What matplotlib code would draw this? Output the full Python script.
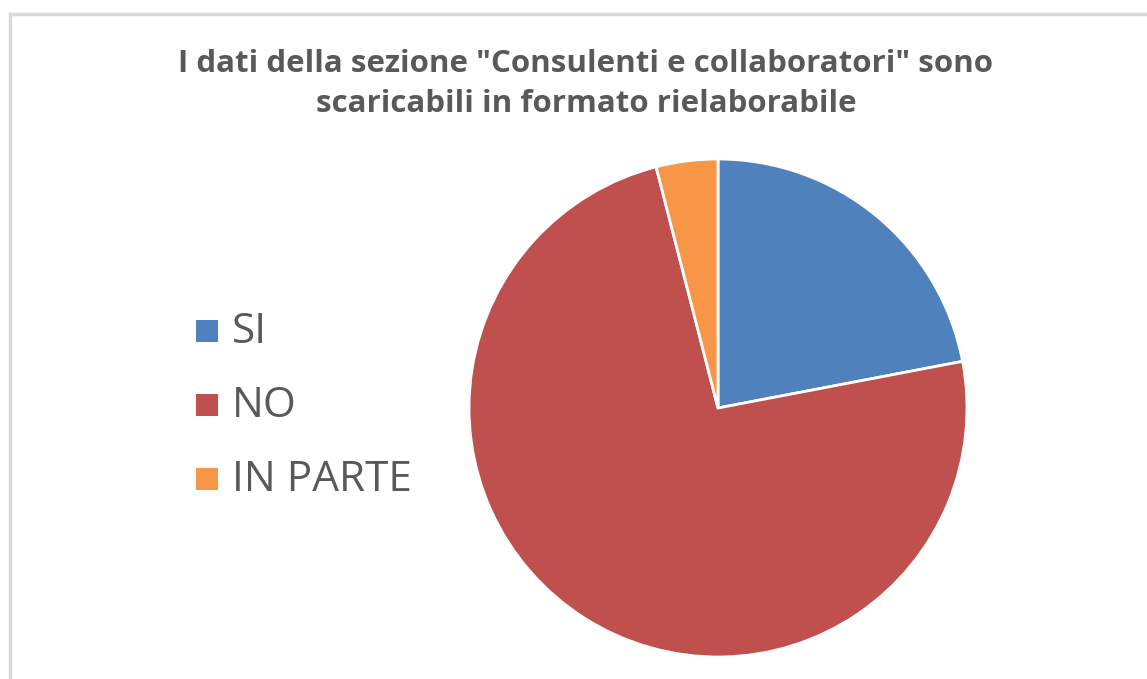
import matplotlib.pyplot as plt
from matplotlib.patches import Rectangle
from matplotlib.lines import Line2D

categories = ['SI', 'NO', 'IN PARTE']
values = [22, 74, 4]
colors = ['#4F81BD', '#C0504D', '#F79646']
title = 'I dati della sezione "Consulenti e collaboratori" sono\nscaricabili in formato rielaborabile'

W, H = 1147, 679
fig = plt.figure(figsize=(W / 100, H / 100), dpi=100)
fig.patch.set_facecolor('white')

# chart frame (left and top edges visible)
fig.add_artist(Line2D([9.5 / W, 9.5 / W], [0, 1 - 14 / H], color='#D9D9D9', lw=2.5))
fig.add_artist(Line2D([9.5 / W, 1], [1 - 14 / H, 1 - 14 / H], color='#D9D9D9', lw=2.5))

fig.text(586 / W, 1 - 84 / H, title, ha='center', va='center', fontsize=22.5,
         fontweight='bold', color='#595959', family='Open Sans', linespacing=1.45)

cx, cy, r = 718, 408, 249
ax = fig.add_axes([(cx - r) / W, (H - cy - r) / H, 2 * r / W, 2 * r / H])
ax.pie(values, colors=colors, startangle=90, counterclock=False, radius=1,
       wedgeprops=dict(edgecolor='white', linewidth=2))
ax.set_xlim(-1, 1)
ax.set_ylim(-1, 1)
ax.axis('off')

# legend
for i, (lab, col) in enumerate(zip(categories, colors)):
    y = 332 + i * 74
    fig.add_artist(Rectangle((196 / W, 1 - (y + 10) / H), 22 / W, 22 / H, facecolor=col,
                             edgecolor='none'))
    fig.text(232 / W, 1 - y / H, lab, ha='left', va='center', fontsize=30.5,
             color='#595959', family='Open Sans')

fig.savefig('out.png', dpi=100)
